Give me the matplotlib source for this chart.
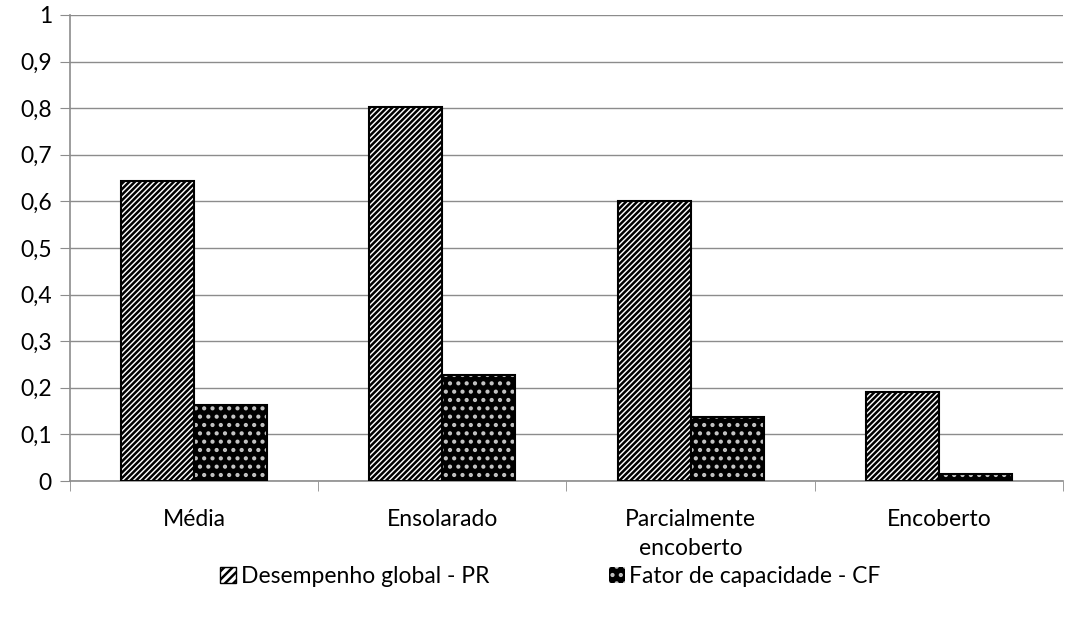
import matplotlib
matplotlib.use("Agg")
import matplotlib.pyplot as plt
import numpy as np
from matplotlib.patches import Patch
from matplotlib.ticker import FuncFormatter, MultipleLocator

categories = ["Média", "Ensolarado", "Parcialmente\nencoberto", "Encoberto"]
pr_values = [0.643, 0.803, 0.601, 0.191]
cf_values = [0.163, 0.228, 0.138, 0.015]
series_labels = ["Desempenho global - PR", "Fator de capacidade - CF"]

plt.rcParams["font.family"] = ["Lato", "DejaVu Sans"]
plt.rcParams["hatch.linewidth"] = 1.8

fs = 16.5
fig = plt.figure(figsize=(10.71, 6.17), dpi=100)
ax = fig.add_axes([0.0654, 0.2204, 0.927, 0.7553])

x = np.arange(len(categories))
w = 0.294
grid_col = "#8c8c8c"

# PR: white bars with dense diagonal hatching
ax.bar(x - w / 2, pr_values, w, facecolor="white", edgecolor="black",
       hatch="//////", linewidth=1.5, zorder=3)
# CF: dark bars with a light dot pattern
ax.bar(x + w / 2, cf_values, w, facecolor="black", edgecolor="#c4c4c4",
       hatch="..", linewidth=0, zorder=3)
ax.bar(x + w / 2, cf_values, w, fill=False, edgecolor="black",
       linewidth=1.5, zorder=4)

ax.set_xlim(-0.5, len(categories) - 0.5)
ax.set_ylim(0, 1)
ax.yaxis.set_major_locator(MultipleLocator(0.1))
ax.yaxis.set_major_formatter(FuncFormatter(
    lambda v, _: "0" if abs(v) < 1e-9 else ("1" if abs(v - 1) < 1e-9 else f"{v:.1f}".replace(".", ","))))
ax.grid(axis="y", color=grid_col, linewidth=1.0, zorder=0)

ax.set_xticks(x)
ax.set_xticklabels(categories, fontsize=fs, linespacing=1.5)
ax.set_xticks(np.arange(len(categories) + 1) - 0.5, minor=True)
ax.tick_params(axis="x", which="major", length=0, pad=20)
ax.tick_params(axis="x", which="minor", length=7, color=grid_col, direction="out")
ax.tick_params(axis="y", labelsize=fs, length=7, color=grid_col, pad=6)

for side in ["top", "right"]:
    ax.spines[side].set_visible(False)
for side in ["left", "bottom"]:
    ax.spines[side].set_color(grid_col)
    ax.spines[side].set_linewidth(1.2)

handles = [
    Patch(facecolor="white", edgecolor="black", hatch="////", linewidth=1.0),
    Patch(facecolor="black", edgecolor="#c4c4c4", hatch="..", linewidth=0),
]
fig.legend(handles, series_labels, loc="center", bbox_to_anchor=(0.514, 0.065),
           ncol=2, frameon=False, fontsize=fs, handlelength=0.7, handleheight=0.7,
           handletextpad=0.2, columnspacing=5.2)

fig.savefig("out.png", dpi=100)
